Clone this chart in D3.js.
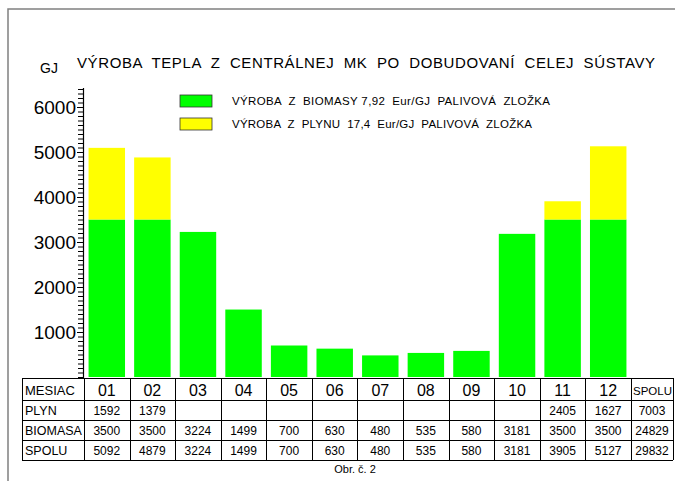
<!DOCTYPE html>
<html>
<head>
<meta charset="utf-8">
<script src="https://cdn.jsdelivr.net/npm/d3@7"></script>
<style>
  body { margin: 0; background: #fff; }
  svg { font-family: Arial, "Liberation Sans", sans-serif; }
  .pre { white-space: pre; }
</style>
</head>
<body>
<div id="chart"></div>
<script>
const months = ["01", "02", "03", "04", "05", "06", "07", "08", "09", "10", "11", "12"];
const plyn = ["1592", "1379", "", "", "", "", "", "", "", "", "2405", "1627"];
const biomasa = [3500, 3500, 3224, 1499, 700, 630, 480, 535, 580, 3181, 3500, 3500];
const spolu = [5092, 4879, 3224, 1499, 700, 630, 480, 535, 580, 3181, 3905, 5127];
const totals = ["7003", "24829", "29832"];
const rowLabels = ["PLYN", "BIOMASA", "SPOLU"];
const yTicks = [1000, 2000, 3000, 4000, 5000, 6000];
const legendItems = [
    { label: "VÝROBA  Z  BIOMASY 7,92  Eur/GJ  PALIVOVÁ  ZLOŽKA", color: "#00ff00", len: 318 },
    { label: "VÝROBA  Z  PLYNU  17,4  Eur/GJ  PALIVOVÁ  ZLOŽKA", color: "#ffff00", len: 300 }
];

const width = 675, height = 481;

const svg = d3.select("#chart").append("svg")
    .attr("width", width)
    .attr("height", height);

// frame
svg.append("path")
    .attr("d", "M8,481 V9 H675")
    .attr("fill", "none")
    .attr("stroke", "#808080")
    .attr("stroke-width", 1.5);

const x = d3.scaleBand()
    .domain(months)
    .range([84, 631])
    .paddingInner(0.2)
    .paddingOuter(0.1);

const y = d3.scaleLinear()
    .domain([0, 6400])
    .range([377, 89]);

// title
svg.append("text")
    .attr("x", 40).attr("y", 73)
    .style("font-size", "14px")
    .text("GJ");

svg.append("text")
    .attr("class", "pre")
    .attr("x", 77).attr("y", 68)
    .attr("textLength", 578)
    .attr("lengthAdjust", "spacing")
    .style("font-size", "15px")
    .text("VÝROBA  TEPLA  Z  CENTRÁLNEJ  MK  PO  DOBUDOVANÍ  CELEJ  SÚSTAVY");

// bars
const band = x.bandwidth();

svg.selectAll(".bio")
    .data(months)
    .enter().append("rect")
    .attr("class", "bio")
    .attr("x", d => x(d))
    .attr("width", band)
    .attr("y", (d, i) => y(biomasa[i]))
    .attr("height", (d, i) => y(0) - y(biomasa[i]))
    .style("fill", "#00ff00");

svg.selectAll(".gas")
    .data(months)
    .enter().append("rect")
    .attr("class", "gas")
    .attr("x", d => x(d))
    .attr("width", band)
    .attr("y", (d, i) => y(spolu[i]))
    .attr("height", (d, i) => Math.max(0, y(biomasa[i]) - y(spolu[i])))
    .style("fill", "#ffff00");

// y axis: minor + major
svg.append("g")
    .attr("transform", "translate(83,0)")
    .call(d3.axisLeft(y).tickValues(d3.range(0, 6401, 100)).tickSize(5).tickFormat(""))
    .call(g => g.select(".domain").remove())
    .selectAll("line").attr("stroke", "#000");

svg.append("g")
    .attr("transform", "translate(83,0)")
    .call(d3.axisLeft(y).tickValues(yTicks).tickSize(6).tickPadding(1).tickFormat(d3.format("d")))
    .call(g => g.select(".domain").remove())
    .call(g => g.selectAll("text")
        .style("font-size", "19px")
        .style("font-family", "Arial, 'Liberation Sans', sans-serif")
        .attr("fill", "#000"));

svg.append("line")
    .attr("x1", 83.5).attr("x2", 83.5)
    .attr("y1", 88).attr("y2", 378)
    .attr("stroke", "#000")
    .attr("stroke-width", 1.2);

// legend
const legend = svg.append("g");
legendItems.forEach((it, i) => {
    legend.append("rect")
        .attr("x", 180).attr("y", 95 + i * 23)
        .attr("width", 32).attr("height", 12)
        .style("fill", it.color)
        .attr("stroke", "#333").attr("stroke-width", 0.8);
    legend.append("text")
        .attr("class", "pre")
        .attr("x", 232).attr("y", 105 + i * 23)
        .attr("textLength", it.len)
        .attr("lengthAdjust", "spacing")
        .style("font-size", "11.5px")
        .text(it.label);
});

// table
const tLeft = 22, tRight = 673, labelEnd = 84;
const rowsY = [378, 400, 420, 440, 460];
const table = svg.append("g").attr("stroke", "#000").attr("stroke-width", 1);

rowsY.forEach(ry => {
    table.append("line")
        .attr("x1", tLeft).attr("x2", tRight)
        .attr("y1", ry + 0.5).attr("y2", ry + 0.5);
});

const colEdges = [tLeft, labelEnd].concat(months.map(m => x(m) - x.step() * x.paddingInner() / 2 + x.step()))
    .concat([tRight]);
colEdges.forEach(cx => {
    table.append("line")
        .attr("x1", Math.round(cx) + 0.5).attr("x2", Math.round(cx) + 0.5)
        .attr("y1", rowsY[0]).attr("y2", rowsY[4]);
});

const cx = m => x(m) + band / 2;

svg.append("text")
    .attr("x", 25).attr("y", 395)
    .style("font-size", "13px")
    .text("MESIAC");

svg.selectAll(".hdr")
    .data(months)
    .enter().append("text")
    .attr("class", "hdr")
    .attr("x", d => cx(d)).attr("y", 396)
    .attr("text-anchor", "middle")
    .style("font-size", "16px")
    .text(d => d);

svg.append("text")
    .attr("x", 633).attr("y", 395)
    .style("font-size", "11.5px")
    .text("SPOLU");

const rowData = [plyn, biomasa.map(String), spolu.map(String)];
rowData.forEach((vals, r) => {
    const base = rowsY[r + 1] + 15;
    svg.append("text")
        .attr("x", 25).attr("y", base)
        .style("font-size", "12.5px")
        .text(rowLabels[r]);
    svg.selectAll(".row" + r)
        .data(months)
        .enter().append("text")
        .attr("class", "row" + r)
        .attr("x", d => cx(d)).attr("y", base)
        .attr("text-anchor", "middle")
        .style("font-size", "12px")
        .text((d, i) => vals[i]);
    svg.append("text")
        .attr("x", 652).attr("y", base)
        .attr("text-anchor", "middle")
        .style("font-size", "12px")
        .text(totals[r]);
});

svg.append("text")
    .attr("x", 355).attr("y", 473)
    .attr("text-anchor", "middle")
    .style("font-size", "11px")
    .text("Obr. č. 2");
</script>
</body>
</html>
